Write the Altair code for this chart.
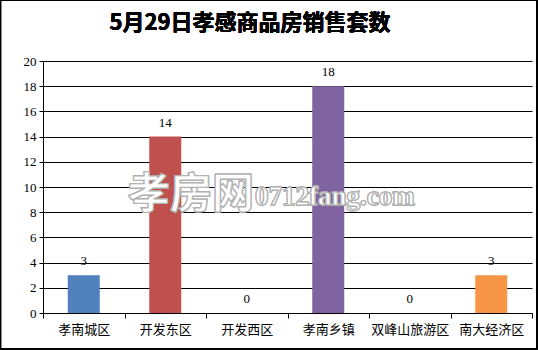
import altair as alt
import pandas as pd

categories = ["孝南城区", "开发东区", "开发西区", "孝南乡镇", "双峰山旅游区", "南大经济区"]
values = [3, 14, 0, 18, 0, 3]
colors = ["#4F81BD", "#C0504D", "#4F81BD", "#8064A2", "#4F81BD", "#F79646"]
y_ticks = list(range(0, 21, 2))
title_text = "5月29日孝感商品房销售套数"

df = pd.DataFrame({"cat": categories, "val": values, "color": colors})

W, H = 489, 252
L, T = 43, 61

x = alt.X("cat:N", sort=categories,
          scale=alt.Scale(paddingInner=0, paddingOuter=0),
          axis=alt.Axis(title=None, labelAngle=0, tickBand="extent", tickSize=5,
                        tickColor="black", domainColor="black", labelColor="black",
                        labelFont="Noto Sans CJK SC", labelFontSize=13, labelPadding=5,
                        grid=False))
y = alt.Y("val:Q", scale=alt.Scale(domain=[0, 20], nice=False),
          axis=alt.Axis(title=None, values=y_ticks, tickCount=len(y_ticks) + 5,
                        labelOverlap=False,
                        tickSize=4, tickColor="black",
                        domainColor="black", labelColor="black",
                        labelFont="Liberation Serif", labelFontSize=13, labelPadding=3,
                        grid=True, gridColor="black", gridWidth=1))

bars = alt.Chart(df).mark_bar(size=32).encode(
    x=x, y=y, color=alt.Color("color:N", scale=None))

labels = alt.Chart(df).mark_text(dy=-14, font="Liberation Serif", fontSize=13,
                                 color="black").encode(
    x=x, y=y, text="val:Q")

wm1 = alt.Chart(df).mark_text(text="孝房网", font="Noto Sans CJK SC", fontSize=42,
                              fontWeight="bold", fill="white", stroke="#b0b0b0",
                              strokeWidth=1, opacity=0.85, align="left",
                              baseline="middle").encode(
    x=alt.value(128 - L), y=alt.value(195 - T))
wm2 = alt.Chart(df).mark_text(text="0712fang.com", font="Liberation Serif", fontSize=27,
                              fontWeight="bold", fill="white", stroke="#b0b0b0",
                              strokeWidth=1, opacity=0.85, align="left",
                              baseline="middle").encode(
    x=alt.value(255 - L), y=alt.value(197 - T))

title = alt.Chart(df).mark_text(text=title_text, font="Noto Sans CJK SC", fontSize=22,
                                fontWeight="bold", color="black", align="center",
                                baseline="middle").encode(
    x=alt.value(250 - L), y=alt.value(23 - T))

border = alt.Chart(df).mark_rect(fill=None, stroke="black", strokeWidth=1.2).encode(
    x=alt.value(0.5 - L), x2=alt.value(537 - L),
    y=alt.value(0.5 - T), y2=alt.value(349 - T))

chart = alt.layer(bars, labels, wm1, wm2, title, border).properties(
    width=W, height=H,
    autosize=alt.AutoSizeParams(type="none"),
    padding={"left": L, "top": T, "right": 538 - L - W, "bottom": 350 - T - H},
    background="white",
).configure_view(stroke=None)

chart.save("out.html", embed_options={"renderer": "svg", "actions": False})
